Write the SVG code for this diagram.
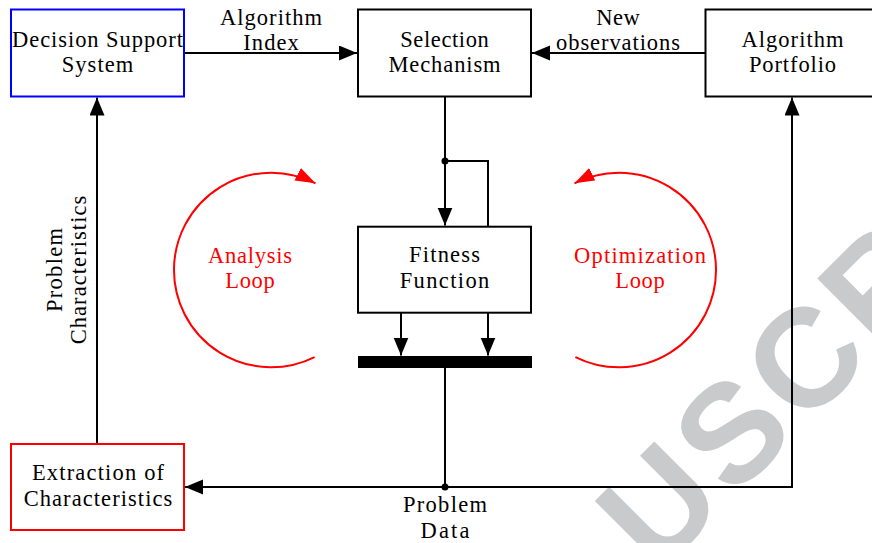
<svg xmlns="http://www.w3.org/2000/svg" width="872" height="543" viewBox="0 0 872 543">
  <style>
    .box { fill: #ffffff; stroke: #000000; stroke-width: 2; }
    .t { font-size: 22.5px; fill: #000000; text-anchor: middle; }
    .red { fill: #ff0000; }
    .ln { fill: none; stroke: #000000; stroke-width: 2; }
    .rl { fill: none; stroke: #ff0000; stroke-width: 2; }
    .wm { font-weight: bold; font-size: 140px; fill: #c9cacc; letter-spacing: 6px; }
  </style>
  <defs>
    <marker id="ah" markerUnits="userSpaceOnUse" markerWidth="20" markerHeight="16" refX="18" refY="7.5" orient="auto">
      <path d="M0,0 L18,7.5 L0,15 Z" fill="#000000"/>
    </marker>
    <marker id="ahr" markerUnits="userSpaceOnUse" markerWidth="22" markerHeight="16" refX="20" refY="7" orient="auto">
      <path d="M0,0 L20,7 L0,14 Z" fill="#ff0000"/>
    </marker>
  </defs>
  <rect x="0" y="0" width="872" height="543" fill="#ffffff"/>

  <text class="wm" font-family="Liberation Sans, Arial, sans-serif" transform="translate(657,575) rotate(-45)">USCR</text>

  <g font-family="Liberation Serif, DejaVu Serif, Noto Serif, serif">
  <g id="connectors">
    <path class="ln" d="M184,53 H357" marker-end="url(#ah)"/>
    <path class="ln" d="M705,53 H532" marker-end="url(#ah)"/>
    <path class="ln" d="M445,96.5 V225.5" marker-end="url(#ah)"/>
    <path class="ln" d="M445,161 H488 V226.5"/>
    <path class="ln" d="M401,313 V355.5" marker-end="url(#ah)"/>
    <path class="ln" d="M488,313 V355.5" marker-end="url(#ah)"/>
    <path class="ln" d="M445,368 V487"/>
    <path class="ln" d="M445,487 H185" marker-end="url(#ah)"/>
    <path class="ln" d="M445,487 H792 V97.5" marker-end="url(#ah)"/>
    <path class="ln" d="M97,444 V97.5" marker-end="url(#ah)"/>
    <circle cx="445" cy="161" r="3.5" fill="#000000"/>
    <circle cx="445" cy="487" r="3.5" fill="#000000"/>
    <text class="t" x="271" y="25" textLength="102" lengthAdjust="spacing">Algorithm</text>
    <text class="t" x="271" y="50" textLength="55.7" lengthAdjust="spacing">Index</text>
    <text class="t" x="618" y="24.5" textLength="43.7" lengthAdjust="spacing">New</text>
    <text class="t" x="618" y="49.5" textLength="123.8" lengthAdjust="spacing">observations</text>
    <text class="t" x="445" y="512" textLength="84" lengthAdjust="spacing">Problem</text>
    <text class="t" x="445" y="538" textLength="49.1" lengthAdjust="spacing">Data</text>
    <g transform="translate(61.5,270) rotate(-90)">
      <text class="t" x="0" y="0" textLength="84" lengthAdjust="spacing">Problem</text>
      <text class="t" x="0" y="24" textLength="148.6" lengthAdjust="spacing">Characteristics</text>
    </g>
  </g>

  <g id="decision-support-system">
    <rect x="11" y="9.5" width="173" height="87" class="box" style="stroke:#0000ff"/>
    <text class="t" x="97.5" y="47" textLength="170.9" lengthAdjust="spacing">Decision Support</text>
    <text class="t" x="97.5" y="72" textLength="71.7" lengthAdjust="spacing">System</text>
  </g>

  <g id="selection-mechanism">
    <rect x="358" y="9.5" width="173" height="87" class="box"/>
    <text class="t" x="444.5" y="47" textLength="88.7" lengthAdjust="spacing">Selection</text>
    <text class="t" x="444.5" y="72" textLength="112.2" lengthAdjust="spacing">Mechanism</text>
  </g>

  <g id="algorithm-portfolio">
    <rect x="705.5" y="9.5" width="173" height="87" class="box"/>
    <text class="t" x="792.5" y="47" textLength="102" lengthAdjust="spacing">Algorithm</text>
    <text class="t" x="792.5" y="72" textLength="87.2" lengthAdjust="spacing">Portfolio</text>
  </g>

  <g id="fitness-function">
    <rect x="358" y="226.7" width="173" height="86" class="box"/>
    <text class="t" x="444.5" y="262" textLength="70.9" lengthAdjust="spacing">Fitness</text>
    <text class="t" x="444.5" y="288" textLength="89.6" lengthAdjust="spacing">Function</text>
  </g>

  <g id="evaluation-bar">
    <rect x="358" y="356" width="174" height="12" fill="#000000"/>
  </g>

  <g id="extraction-of-characteristics">
    <rect x="11" y="444" width="173" height="86" class="box" style="stroke:#ff0000"/>
    <text class="t" x="98" y="480" textLength="132.1" lengthAdjust="spacing">Extraction of</text>
    <text class="t" x="98" y="506" textLength="148.6" lengthAdjust="spacing">Characteristics</text>
  </g>

  <g id="analysis-loop">
    <path class="rl" d="M314.6,357.1 A97.3,97.3 0 1 1 315.5,183.3" marker-end="url(#ahr)"/>
    <text class="t red" x="250" y="263" textLength="83.9" lengthAdjust="spacing">Analysis</text>
    <text class="t red" x="250" y="288" textLength="49.7" lengthAdjust="spacing">Loop</text>
  </g>

  <g id="optimization-loop">
    <path class="rl" d="M575.4,357.1 A97.3,97.3 0 1 0 574.5,183.3" marker-end="url(#ahr)"/>
    <text class="t red" x="640" y="263" textLength="131.8" lengthAdjust="spacing">Optimization</text>
    <text class="t red" x="640" y="288" textLength="49.7" lengthAdjust="spacing">Loop</text>
  </g>
  </g>
</svg>
